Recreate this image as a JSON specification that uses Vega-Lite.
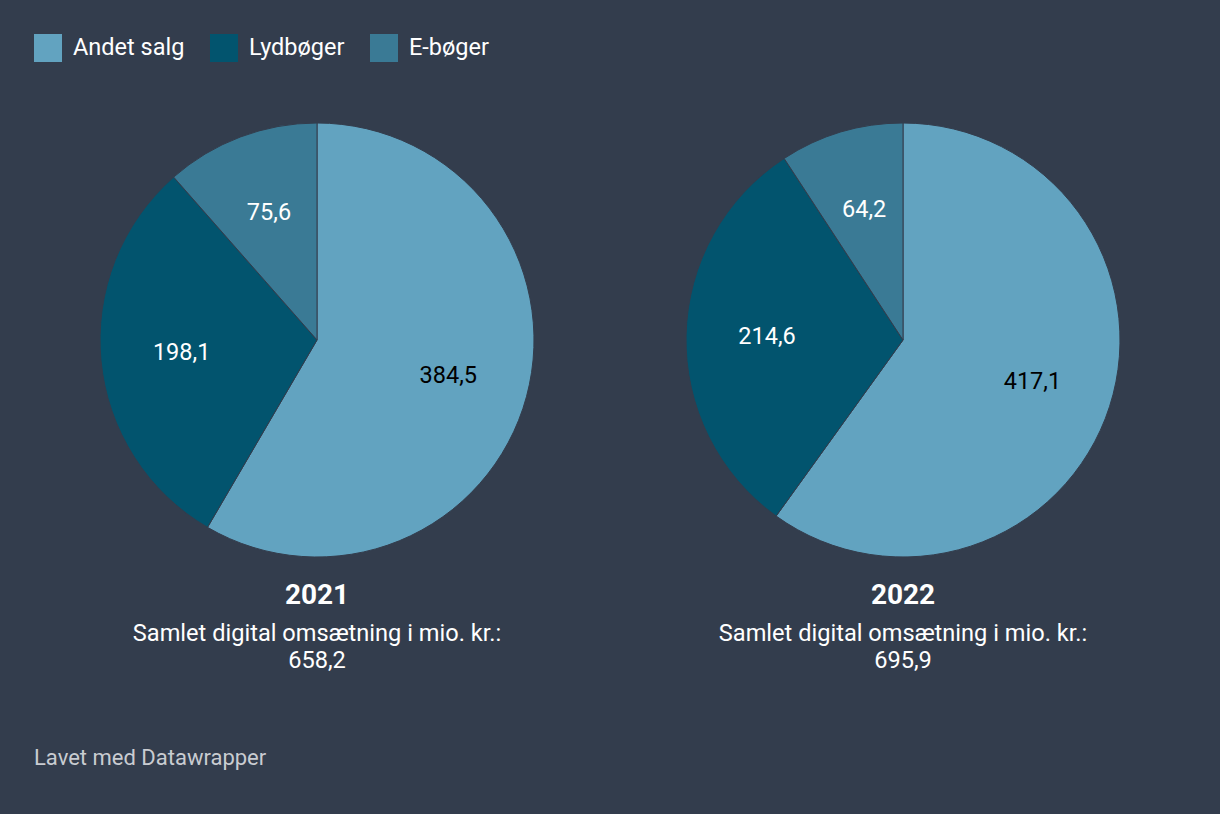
{
  "$schema": "https://vega.github.io/schema/vega-lite/v6.json",
  "background": "#333d4d",
  "padding": {"left": 34, "top": 34, "right": 100, "bottom": 46},
  "data": {
    "values": [
      {"year": 2021, "category": "Andet salg", "ord": 1, "value": 384.5},
      {"year": 2021, "category": "Lydbøger", "ord": 2, "value": 198.1},
      {"year": 2021, "category": "E-bøger", "ord": 3, "value": 75.6},
      {"year": 2022, "category": "Andet salg", "ord": 1, "value": 417.1},
      {"year": 2022, "category": "Lydbøger", "ord": 2, "value": 214.6},
      {"year": 2022, "category": "E-bøger", "ord": 3, "value": 64.2}
    ]
  },
  "title": {
    "text": "Lavet med Datawrapper",
    "orient": "bottom",
    "anchor": "start",
    "fontSize": 22,
    "fontWeight": "normal",
    "color": "#c9ccd1",
    "offset": 75
  },
  "spacing": 148,
  "hconcat": [
    {
      "width": 434,
      "height": 434,
      "title": {"text": "2021", "subtitle": ["Samlet digital omsætning i mio. kr.:", "658,2"]},
      "transform": [{"filter": "datum.year == 2021"}],
      "encoding": {
        "theta": {"field": "value", "type": "quantitative", "stack": true},
        "order": {"field": "ord", "type": "quantitative"}
      },
      "layer": [
        {
          "mark": {"type": "arc", "outerRadius": 217, "stroke": "#333d4d", "strokeWidth": 1},
          "encoding": {
            "color": {"field": "category", "type": "nominal", "scale": {"domain": ["Andet salg", "Lydbøger", "E-bøger"], "range": ["#62a3c0", "#02546e", "#3a7a95"]}, "title": null}
          }
        },
        {
          "mark": {"type": "text", "radius": 136, "fontSize": 23.5, "font": "Roboto"},
          "encoding": {
            "text": {"field": "value", "type": "quantitative", "format": ".1f"},
            "color": {"condition": {"test": "datum.category == 'Andet salg'", "value": "#000000"}, "value": "#ffffff"}
          }
        }
      ]
    },
    {
      "width": 434,
      "height": 434,
      "title": {"text": "2022", "subtitle": ["Samlet digital omsætning i mio. kr.:", "695,9"]},
      "transform": [{"filter": "datum.year == 2022"}],
      "encoding": {
        "theta": {"field": "value", "type": "quantitative", "stack": true},
        "order": {"field": "ord", "type": "quantitative"}
      },
      "layer": [
        {
          "mark": {"type": "arc", "outerRadius": 217, "stroke": "#333d4d", "strokeWidth": 1},
          "encoding": {
            "color": {"field": "category", "type": "nominal", "scale": {"domain": ["Andet salg", "Lydbøger", "E-bøger"], "range": ["#62a3c0", "#02546e", "#3a7a95"]}, "title": null}
          }
        },
        {
          "mark": {"type": "text", "radius": 136, "fontSize": 23.5, "font": "Roboto"},
          "encoding": {
            "text": {"field": "value", "type": "quantitative", "format": ".1f"},
            "color": {"condition": {"test": "datum.category == 'Andet salg'", "value": "#000000"}, "value": "#ffffff"}
          }
        }
      ]
    }
  ],
  "config": {
    "locale": {"number": {"decimal": ",", "thousands": ".", "grouping": [3], "currency": ["", " kr."]}},
    "font": "Roboto",
    "view": {"stroke": null},
    "title": {
      "orient": "bottom",
      "anchor": "middle",
      "offset": 23,
      "font": "Roboto",
      "fontSize": 28,
      "fontWeight": "bold",
      "color": "#ffffff",
      "subtitleFont": "Roboto",
      "subtitleFontSize": 23.6,
      "subtitleColor": "#ffffff",
      "subtitleLineHeight": 27,
      "subtitlePadding": 12
    },
    "legend": {
      "orient": "none",
      "legendX": -66,
      "legendY": -89,
      "direction": "horizontal",
      "columns": 3,
      "padding": 0,
      "symbolType": "square",
      "symbolSize": 784,
      "symbolStrokeWidth": 0,
      "symbolOpacity": 1,
      "labelFont": "Roboto",
      "labelFontSize": 23.5,
      "labelColor": "#ffffff",
      "labelOffset": 11,
      "columnPadding": 25
    }
  }
}
